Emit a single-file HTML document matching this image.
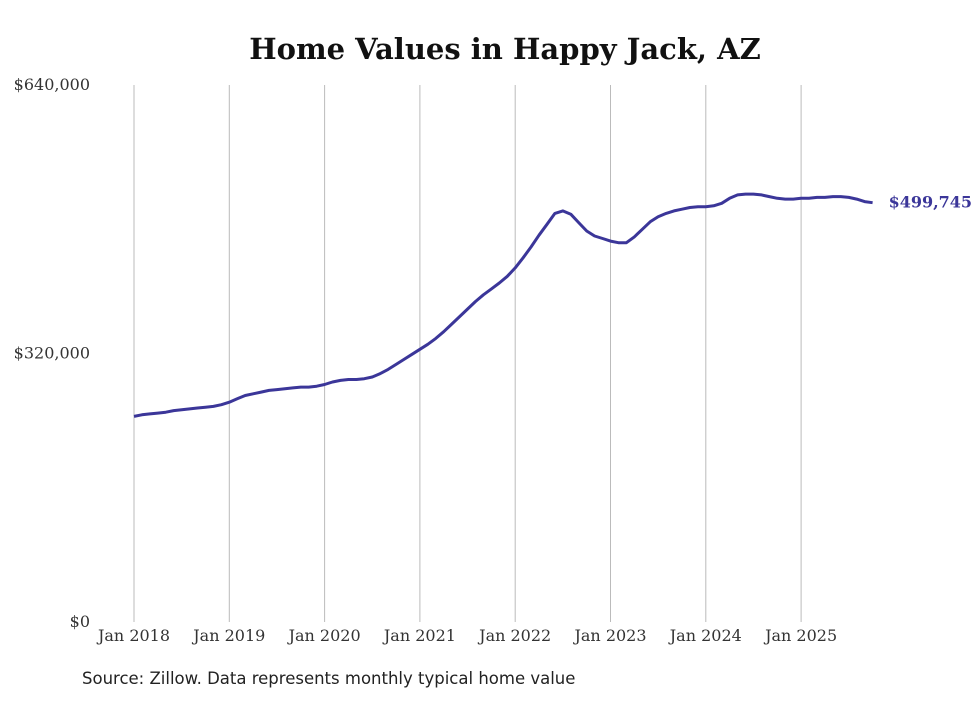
<!DOCTYPE html>
<html><head><meta charset="utf-8"><style>
body{margin:0;background:#fff;width:980px;height:699px;overflow:hidden;font-family:"DejaVu Serif","Liberation Serif",serif;}
</style></head><body>
<svg id="chart" width="980" height="699" xmlns="http://www.w3.org/2000/svg">
<text x="505" y="59" text-anchor="middle" font-size="29" font-weight="bold" fill="#111">Home Values in Happy Jack, AZ</text>
<g id="grid"></g><g id="yaxis"></g><g id="xaxis"></g>
<path id="line" fill="none" stroke="#3b3699" stroke-width="3" stroke-linejoin="round"/>
<text id="endlabel" font-size="16" font-weight="bold" fill="#3b3699"></text>
<text x="82" y="684" font-size="16.5" fill="#222" font-family="DejaVu Sans, sans-serif">Source: Zillow. Data represents monthly typical home value</text>
</svg>
<script>
const yearLabels=["Jan 2018","Jan 2019","Jan 2020","Jan 2021","Jan 2022","Jan 2023","Jan 2024","Jan 2025"];
const yTicks=[0,320000,640000];
const values=[245,247,248,249,250,252,253,254,255,256,257,259,
262,266,270,272,274,276,277,278,279,280,280,281,
283,286,288,289,289,290,292,296,301,307,313,319,
325,331,338,346,355,364,373,382,390,397,404,412,
422,434,447,461,474,487,490,486,476,466,460,457,
454,452,452,459,468,477,483,487,490,492,494,495,
495,496,499,505,509,510,510,509,507,505,504,504,
505,505,506,506,507,507,506,504,501,499.745].map(v=>v*1000);
const x=m=>134+m*95.3/12;
const y=v=>622-v/640000*537;
const ns="http://www.w3.org/2000/svg";
const grid=document.getElementById('grid'),xa=document.getElementById('xaxis'),ya=document.getElementById('yaxis');
yearLabels.forEach((l,i)=>{
 const ln=document.createElementNS(ns,'line');
 
 
 ln.setAttribute('x1',x(i*12));ln.setAttribute('x2',x(i*12));ln.setAttribute('y1',85);ln.setAttribute('y2',622);
 ln.setAttribute('stroke','#bbb');ln.setAttribute('stroke-width','1');grid.appendChild(ln);
 const t=document.createElementNS(ns,'text');
 
 
 t.setAttribute('x',x(i*12));t.setAttribute('y',641);t.setAttribute('text-anchor','middle');t.setAttribute('font-size','16');t.setAttribute('fill','#333');
 t.textContent=l;xa.appendChild(t);
});
yTicks.forEach(v=>{
 const t=document.createElementNS(ns,'text');
 
 
 t.setAttribute('x',90);t.setAttribute('y',y(v)+5);t.setAttribute('text-anchor','end');t.setAttribute('font-size','16');t.setAttribute('fill','#333');
 t.textContent='$'+v.toLocaleString('en-US');ya.appendChild(t);
});
let d='';
for(let i=0;i<values.length;i++){d+=(i?'L':'M')+x(i).toFixed(1)+','+y(values[i]).toFixed(1);}
document.getElementById('line').setAttribute('d',d);
const last=values.length-1,el=document.getElementById('endlabel');
el.setAttribute('x',x(last)+16);el.setAttribute('y',y(values[last])+5);
el.textContent='$'+Math.round(values[last]).toLocaleString('en-US');
</script>
</body></html>
